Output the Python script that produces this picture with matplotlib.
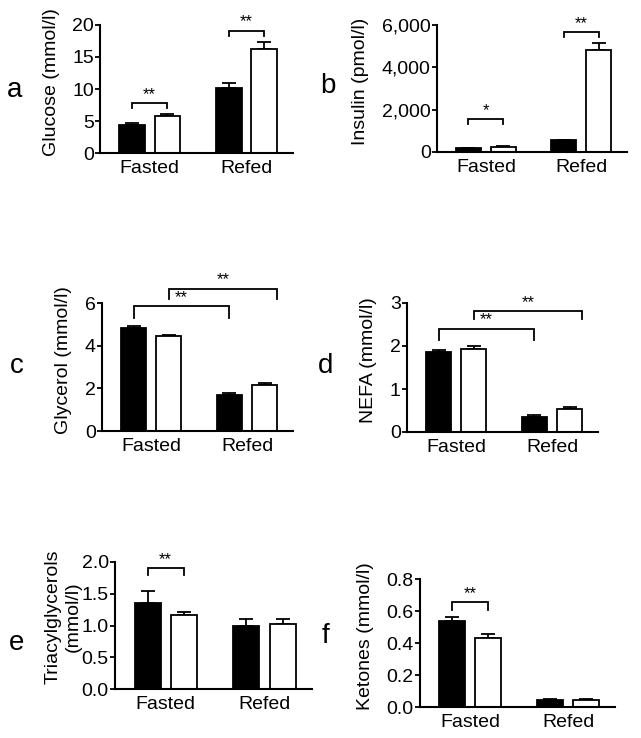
import matplotlib
matplotlib.use('Agg')
import matplotlib.pyplot as plt
from matplotlib.ticker import FuncFormatter

plt.rcParams['font.family'] = ['Liberation Sans', 'DejaVu Sans']

W, H = 641, 738

groups = ['Fasted', 'Refed']

# values (control = black, knockout = white), upper SEM
glucose_ctrl = [4.3, 10.2]
glucose_ctrl_err = [0.35, 0.75]
glucose_ko = [5.85, 16.2]
glucose_ko_err = [0.3, 1.2]

insulin_ctrl = [170, 550]
insulin_ctrl_err = [15, 25]
insulin_ko = [250, 4820]
insulin_ko_err = [20, 345]

glycerol_ctrl = [4.83, 1.69]
glycerol_ctrl_err = [0.11, 0.07]
glycerol_ko = [4.44, 2.16]
glycerol_ko_err = [0.06, 0.11]

nefa_ctrl = [1.85, 0.35]
nefa_ctrl_err = [0.06, 0.04]
nefa_ko = [1.93, 0.545]
nefa_ko_err = [0.06, 0.03]

tg_ctrl = [1.36, 0.99]
tg_ctrl_err = [0.18, 0.12]
tg_ko = [1.16, 1.02]
tg_ko_err = [0.05, 0.08]

ketone_ctrl = [0.539, 0.046]
ketone_ctrl_err = [0.025, 0.003]
ketone_ko = [0.434, 0.046]
ketone_ko_err = [0.021, 0.002]

# significance brackets: (from bar, to bar, label)  bars: 0 F-ctrl, 1 F-ko, 2 R-ctrl, 3 R-ko
sig_a = [(0, 1, '**'), (2, 3, '**')]
sig_b = [(0, 1, '*'), (2, 3, '**')]
sig_c = [(0, 2, '**'), (1, 3, '**')]
sig_d = [(0, 2, '**'), (1, 3, '**')]
sig_e = [(0, 1, '**')]
sig_f = [(0, 1, '**')]

# bracket heights in data units (and tick drop)
bracket_y = {
    'a': [(7.8, 0.7), (19.1, 0.8)],
    'b': [(1550, 215), (5650, 220)],
    'c': [(5.85, 0.55), (6.67, 0.5)],
    'd': [(2.40, 0.26), (2.81, 0.18)],
    'e': [(1.90, 0.11)],
    'f': [(0.656, 0.05)],
}

panels = [
    # letter, ylabel, ctrl, ctrl_err, ko, ko_err, ymax, step, fmt, sig, box(px l, r, top, bottom), letter pos
    ('a', 'Glucose (mmol/l)', glucose_ctrl, glucose_ctrl_err, glucose_ko, glucose_ko_err,
     20, 5, '{:.0f}', sig_a, (100, 293, 25, 153), (15, 90)),
    ('b', 'Insulin (pmol/l)', insulin_ctrl, insulin_ctrl_err, insulin_ko, insulin_ko_err,
     6000, 2000, '{:,.0f}', sig_b, (437, 627, 25, 152), (328, 86)),
    ('c', 'Glycerol (mmol/l)', glycerol_ctrl, glycerol_ctrl_err, glycerol_ko, glycerol_ko_err,
     6, 2, '{:.0f}', sig_c, (102, 293, 303, 431), (17, 366)),
    ('d', 'NEFA (mmol/l)', nefa_ctrl, nefa_ctrl_err, nefa_ko, nefa_ko_err,
     3, 1, '{:.0f}', sig_d, (407, 598, 303, 432), (326, 366)),
    ('e', 'Triacylglycerols\n(mmol/l)', tg_ctrl, tg_ctrl_err, tg_ko, tg_ko_err,
     2.0, 0.5, '{:.1f}', sig_e, (115, 312, 562, 689), (17, 643)),
    ('f', 'Ketones (mmol/l)', ketone_ctrl, ketone_ctrl_err, ketone_ko, ketone_ko_err,
     0.8, 0.2, '{:.1f}', sig_f, (420, 615, 579, 707), (326, 636)),
]

group_x = [0.0, 2.73]
offset = 0.5
bar_w = 0.72

fig = plt.figure(figsize=(W / 100, H / 100), dpi=100)

for (letter, ylab, ctrl, ctrl_err, ko, ko_err, ymax, step, fmt, sig, box, lpos) in panels:
    l, r, t, b = box
    ax = fig.add_axes([l / W, 1 - b / H, (r - l) / W, (b - t) / H])
    xc = [g - offset for g in group_x]
    xk = [g + offset for g in group_x]
    ax.bar(xc, ctrl, width=bar_w, color='black', edgecolor='black', linewidth=1.3, zorder=2)
    ax.bar(xk, ko, width=bar_w, color='white', edgecolor='black', linewidth=1.3, zorder=2)
    ax.errorbar(xc, ctrl, yerr=[[0, 0], ctrl_err], fmt='none', ecolor='black',
                elinewidth=1.3, capsize=5, capthick=1.3, zorder=1)
    ax.errorbar(xk, ko, yerr=[[0, 0], ko_err], fmt='none', ecolor='black',
                elinewidth=1.3, capsize=5, capthick=1.3, zorder=1)

    ax.set_xlim(-1.40, 4.04)
    ax.set_ylim(0, ymax)
    ticks = [i * step for i in range(int(round(ymax / step)) + 1)]
    ax.set_yticks(ticks)
    ax.yaxis.set_major_formatter(FuncFormatter(lambda v, p, f=fmt: f.format(v)))
    ax.set_xticks(group_x)
    ax.set_xticklabels(groups)
    ax.tick_params(axis='x', length=0, labelsize=14, pad=5)
    ax.tick_params(axis='y', length=3.5, width=1.3, labelsize=14, pad=1)
    for s in ['top', 'right']:
        ax.spines[s].set_visible(False)
    for s in ['left', 'bottom']:
        ax.spines[s].set_linewidth(1.5)
    if letter == 'e':
        ax.set_ylabel(ylab, fontsize=14, labelpad=0, linespacing=1.25, y=0.57)
    else:
        ax.set_ylabel(ylab, fontsize=14, labelpad=9, y=0.555)

    bar_pos = [xc[0], xk[0], xc[1], xk[1]]
    for (i0, i1, lab), (yb, drop) in zip(sig, bracket_y[letter]):
        x0 = bar_pos[i0]
        x1 = bar_pos[i1]
        if letter in ('c', 'd') and i1 == 3:
            x1 += bar_w / 2
        ax.plot([x0, x0, x1, x1], [yb - drop, yb, yb, yb - drop], color='black',
                linewidth=1.3, clip_on=False, solid_joinstyle='miter')
        ax.annotate(lab, ((x0 + x1) / 2, yb), xytext=(0, 1), textcoords='offset points',
                    ha='center', va='bottom', fontsize=12, annotation_clip=False)

    fig.text(lpos[0] / W, 1 - lpos[1] / H, letter, fontsize=20, ha='center', va='center')

fig.savefig('out.png', dpi=100)
